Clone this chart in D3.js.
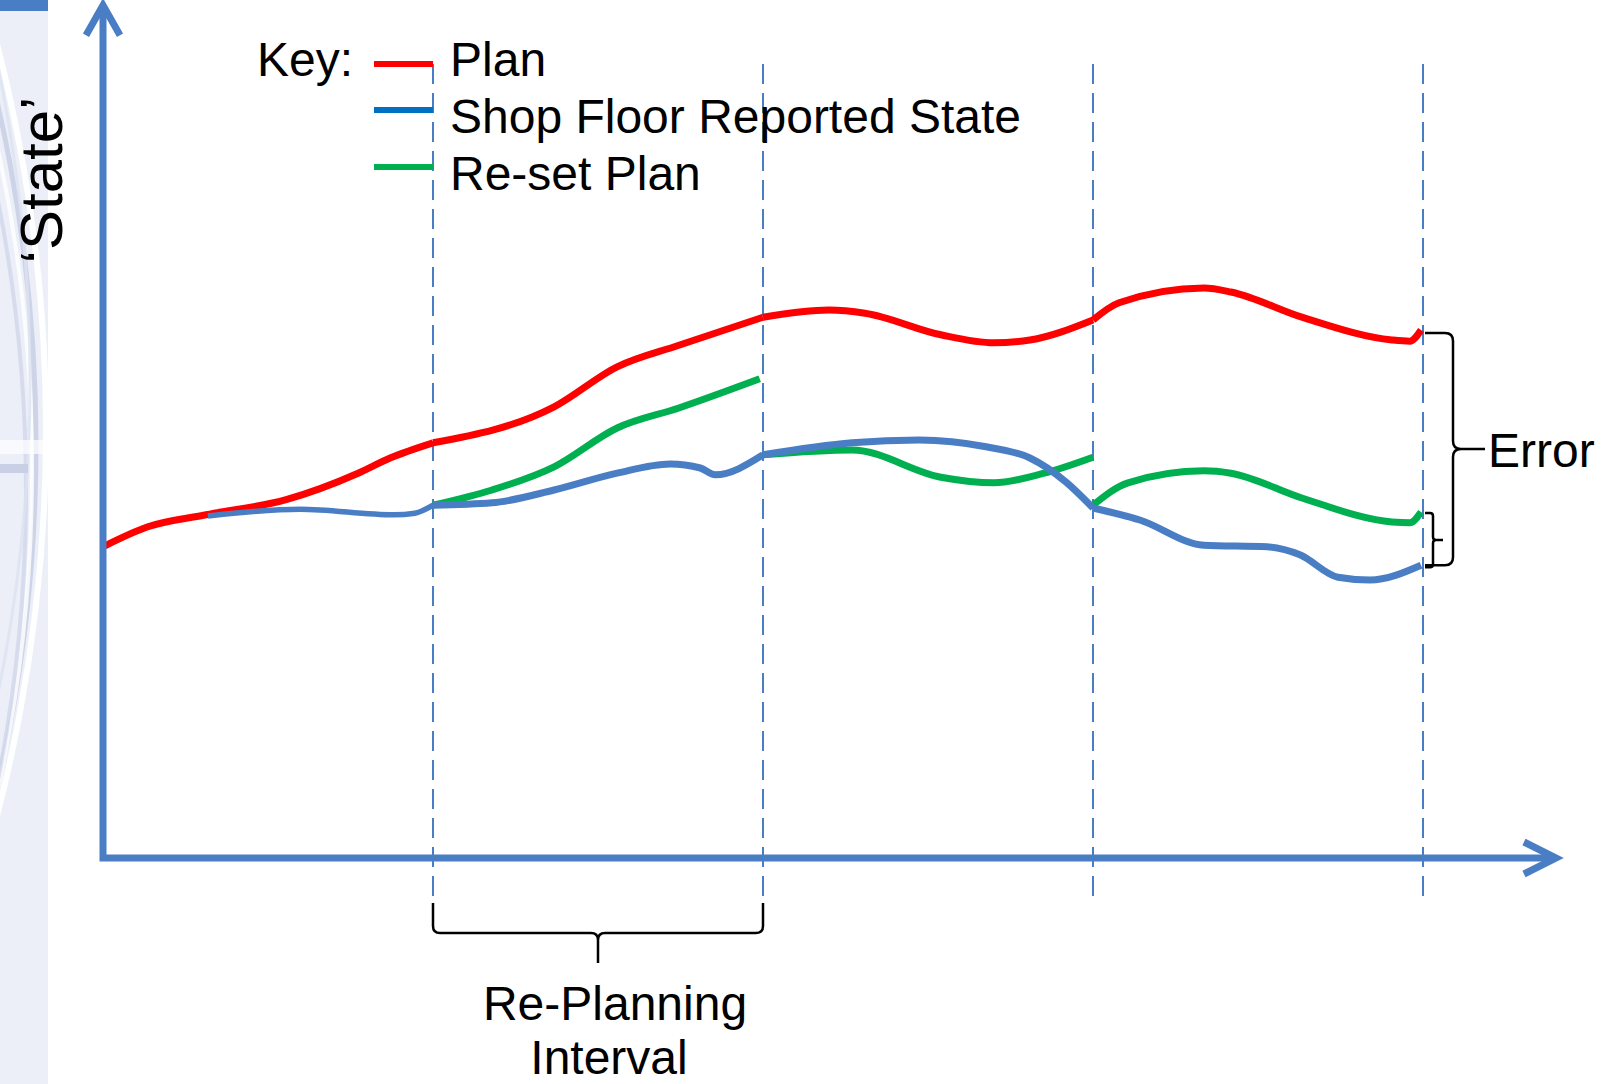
<!DOCTYPE html>
<html>
<head>
<meta charset="utf-8">
<script src="https://cdn.jsdelivr.net/npm/d3@7"></script>
<style>
  html, body { margin: 0; padding: 0; background: #fff; }
  svg { display: block; font-family: "Liberation Sans", Arial, sans-serif; }
</style>
</head>
<body>
<div id="chart"></div>
<script>
// Time is counted in re-planning intervals, 'state' is in arbitrary units (0 - 100)
var intervals = [1, 2, 3, 4];

// Each series is split into one piece per re-planning interval: [time, state]
var planSegments = [
    [[0, 38.9], [0.136, 41.4], [0.312, 42.9], [0.555, 44.8], [0.773, 48.1], [0.87, 50.0], [1, 51.9]],
    [[1, 51.9], [1.367, 56.4], [1.558, 61.4], [1.745, 64.1], [2, 67.6]],
    [[2, 67.6], [2.2, 68.5], [2.309, 68.1], [2.539, 65.4], [2.7, 64.4], [2.809, 64.75], [3, 67.25]],
    [[3, 67.25], [3.079, 69.4], [3.336, 71.25], [3.418, 70.75], [3.633, 67.6], [3.906, 64.75], [3.96, 64.6], [3.994, 66.0]]
];
var shopFloorSegments = [
    [[0.318, 42.75], [0.597, 43.6], [0.882, 42.9], [0.945, 43.1], [1, 44.1]],
    [[1, 44.1], [1.179, 44.4], [1.367, 46.0], [1.558, 48.1], [1.718, 49.25], [1.81, 48.75], [1.855, 47.9], [2, 50.4]],
    [[2, 50.4], [2.27, 51.9], [2.473, 52.25], [2.676, 51.4], [2.809, 50.0], [2.918, 47.0], [3, 43.75]],
    [[3, 43.75], [3.142, 42.25], [3.336, 39.1], [3.527, 38.9], [3.627, 37.9], [3.742, 35.1], [3.839, 34.75], [3.994, 36.6]]
];
var resetSegments = [
    [[1, 44.1], [1.179, 46.0], [1.367, 48.9], [1.558, 53.75], [1.745, 56.25], [1.99, 59.9]],
    [[2, 50.4], [2.27, 51.0], [2.539, 47.6], [2.7, 46.9], [2.852, 48.1], [3, 50.1]],
    [[3, 44.1], [3.106, 46.9], [3.336, 48.4], [3.418, 48.1], [3.633, 45.0], [3.906, 42.0], [3.96, 41.9], [3.994, 43.25]]
];

// Key entries
var legendNames = ["Plan", "Shop Floor Reported State", "Re-set Plan"];
var legendColors = ["#ff0000", "#0070c0", "#00b050"];

// Axis extents (time, state) - the arrows run past the last interval
var xExtent = [0, 4.403];
var yExtent = [0, 106.6];

var chart = (function () {
    var that = {};

    var width = 1608, height = 1084;
    var axisColor = "#4a7ec4";
    var colors = {plan: "#ff0000", shop: "#4a7ec4", reset: "#00b050"};
    var font = "\"Liberation Sans\", Arial, sans-serif";
    var fontSize = 48;

    // scales: interval 0..4 across the plot, state 0..100
    var x = d3.scaleLinear().domain([0, 4]).range([103, 1423]);
    var y = d3.scaleLinear().domain([0, 100]).range([858, 58]);

    var line = d3.line()
        .x(function (d) { return x(d[0]); })
        .y(function (d) { return y(d[1]); })
        .curve(d3.curveMonotoneX);

    that.svg = d3.select("#chart").append("svg")
        .attr("width", width)
        .attr("height", height)
        .attr("viewBox", "0 0 " + width + " " + height);

    // Slide side strip with the faint ring decoration
    that.drawStrip = function () {
        var svg = that.svg;
        svg.append("clipPath").attr("id", "stripClip")
            .append("rect").attr("x", 0).attr("y", 0).attr("width", 48).attr("height", height);
        var g = svg.append("g").attr("clip-path", "url(#stripClip)");
        g.append("rect").attr("x", 0).attr("y", 0).attr("width", 48).attr("height", height).attr("fill", "#eceff8");
        // big rings, mostly off-slide to the left
        var rings = [
            {cx: -1500, cy: 430, r: 1546, stroke: "#ffffff", w: 6, o: 0.95},
            {cx: -1500, cy: 445, r: 1536, stroke: "#c5cde4", w: 5, o: 0.8},
            {cx: -1480, cy: 470, r: 1512, stroke: "#ffffff", w: 4, o: 0.8},
            {cx: -1470, cy: 490, r: 1496, stroke: "#cdd4e8", w: 4, o: 0.7},
            {cx: -1520, cy: 380, r: 1550, stroke: "#dde2f0", w: 3, o: 0.8}
        ];
        g.selectAll("circle.ring").data(rings).enter().append("circle")
            .attr("class", "ring")
            .attr("cx", function (d) { return d.cx; })
            .attr("cy", function (d) { return d.cy; })
            .attr("r", function (d) { return d.r; })
            .attr("fill", "none")
            .attr("stroke", function (d) { return d.stroke; })
            .attr("stroke-width", function (d) { return d.w; })
            .attr("opacity", function (d) { return d.o; });
        g.append("rect").attr("x", 0).attr("y", 440).attr("width", 48).attr("height", 14).attr("fill", "#ffffff").attr("opacity", 0.7);
        g.append("rect").attr("x", 0).attr("y", 464).attr("width", 28).attr("height", 9).attr("fill", "#c9cfe4");
        // top accent bar
        svg.append("rect").attr("x", 0).attr("y", 0).attr("width", 48).attr("height", 11).attr("fill", axisColor);
    };

    // Dashed markers at the end of each re-planning interval
    that.drawIntervals = function () {
        that.svg.selectAll("line.interval").data(intervals).enter().append("line")
            .attr("class", "interval")
            .attr("x1", function (d) { return x(d); })
            .attr("x2", function (d) { return x(d); })
            .attr("y1", 64)
            .attr("y2", 903)
            .attr("stroke", axisColor)
            .attr("stroke-width", 2)
            .attr("stroke-dasharray", "20,9");
    };

    that.drawSeries = function (segments, color, cls) {
        that.svg.selectAll("path." + cls).data(segments).enter().append("path")
            .attr("class", cls)
            .attr("d", line)
            .attr("fill", "none")
            .attr("stroke", color)
            .attr("stroke-width", function (d, i) { return (cls === "shop" && i === 0) ? 5.5 : 7; })
            .attr("stroke-linecap", "butt");
    };

    // Axes are plain arrows, no ticks
    that.drawAxes = function () {
        var x0 = x(0), y0 = y(0), xe = x(xExtent[1]), ye = y(yExtent[1]);
        var g = that.svg.append("g")
            .attr("fill", "none")
            .attr("stroke", axisColor)
            .attr("stroke-width", 7);
        g.append("path").attr("d", "M" + x0 + "," + (ye + 3) + "V" + y0 + "H" + (xe - 3));
        g.append("path").attr("d", "M" + (x0 - 17) + "," + (ye + 30) + "L" + x0 + "," + ye + "L" + (x0 + 17) + "," + (ye + 30))
            .attr("stroke-linejoin", "miter");
        g.append("path").attr("d", "M" + (xe - 32) + "," + (y0 - 16) + "L" + xe + "," + y0 + "L" + (xe - 32) + "," + (y0 + 16))
            .attr("stroke-linejoin", "miter");
    };

    // Key in the top left
    that.drawLegend = function () {
        var svg = that.svg;
        svg.append("text").attr("x", 257).attr("y", 76)
            .attr("font-size", fontSize).attr("font-family", font).text("Key:");
        var lineOffset = [12, 23, 23];
        var rows = svg.selectAll("g.key").data(legendNames).enter().append("g")
            .attr("class", "key")
            .attr("transform", function (d, i) { return "translate(0," + (76 + i * 57) + ")"; });
        rows.append("line")
            .attr("x1", 374).attr("x2", 433)
            .attr("y1", function (d, i) { return -lineOffset[i]; })
            .attr("y2", function (d, i) { return -lineOffset[i]; })
            .attr("stroke", function (d, i) { return legendColors[i]; })
            .attr("stroke-width", 6);
        rows.append("text").attr("x", 450).attr("y", 0)
            .attr("font-size", fontSize).attr("font-family", font)
            .text(function (d) { return d; });
    };

    // Curly brace facing right, from y0 to y1, opening to the left
    that.braceRight = function (xa, xs, xt, y0, y1, r) {
        var ym = (y0 + y1) / 2;
        return "M" + xa + "," + y0 + "H" + (xs - r) + "Q" + xs + "," + y0 + " " + xs + "," + (y0 + r) +
            "V" + (ym - r) + "Q" + xs + "," + ym + " " + (xs + r) + "," + ym + "H" + xt +
            "M" + (xs + r) + "," + ym + "Q" + xs + "," + ym + " " + xs + "," + (ym + r) +
            "V" + (y1 - r) + "Q" + xs + "," + y1 + " " + (xs - r) + "," + y1 + "H" + xa;
    };

    // Curly brace facing down between x0 and x1
    that.braceDown = function (x0, x1, ya, ys, yt, r) {
        var xm = (x0 + x1) / 2;
        return "M" + x0 + "," + ya + "V" + (ys - r) + "Q" + x0 + "," + ys + " " + (x0 + r) + "," + ys +
            "H" + (xm - r) + "Q" + xm + "," + ys + " " + xm + "," + (ys + r) + "V" + yt +
            "M" + xm + "," + (ys + r) + "Q" + xm + "," + ys + " " + (xm + r) + "," + ys +
            "H" + (x1 - r) + "Q" + x1 + "," + ys + " " + x1 + "," + (ys - r) + "V" + ya;
    };

    that.drawAnnotations = function () {
        var svg = that.svg;
        var last = function (segs) { var s = segs[segs.length - 1]; return s[s.length - 1]; };
        var planEnd = last(planSegments), shopEnd = last(shopFloorSegments), resetEnd = last(resetSegments);
        var xa = x(4) + 2;

        var g = svg.append("g").attr("fill", "none").attr("stroke", "#000").attr("stroke-width", 2.5);
        g.append("path").attr("d", that.braceRight(xa, xa + 28, xa + 60, y(planEnd[1]) + 3, y(shopEnd[1]), 8));
        g.append("path").attr("d", that.braceRight(xa, xa + 8, xa + 18, y(resetEnd[1]) + 1, y(shopEnd[1]) + 2, 3));
        g.append("path").attr("d", that.braceDown(x(1), x(2), 903, 933, 963, 7));

        svg.append("text").attr("x", xa + 63).attr("y", 467)
            .attr("font-size", fontSize).attr("font-family", font).text("Error");

        var label = svg.append("text").attr("text-anchor", "middle")
            .attr("font-size", fontSize).attr("font-family", font);
        label.append("tspan").attr("x", 615).attr("y", 1020).text("Re-Planning");
        label.append("tspan").attr("x", 609).attr("y", 1074).text("Interval");

        // y axis title, reads bottom to top
        svg.append("text")
            .attr("transform", "translate(62,180) rotate(-90)")
            .attr("text-anchor", "middle")
            .attr("font-size", 60).attr("font-family", font)
            .text("\u2018State\u2019");
    };

    that.init = function () {
        that.drawStrip();
        that.drawIntervals();
        that.drawSeries(planSegments, colors.plan, "plan");
        that.drawSeries(resetSegments, colors.reset, "reset");
        that.drawSeries(shopFloorSegments, colors.shop, "shop");
        that.drawAxes();
        that.drawLegend();
        that.drawAnnotations();
    };

    that.init();
    return that;
}());
</script>
</body>
</html>
